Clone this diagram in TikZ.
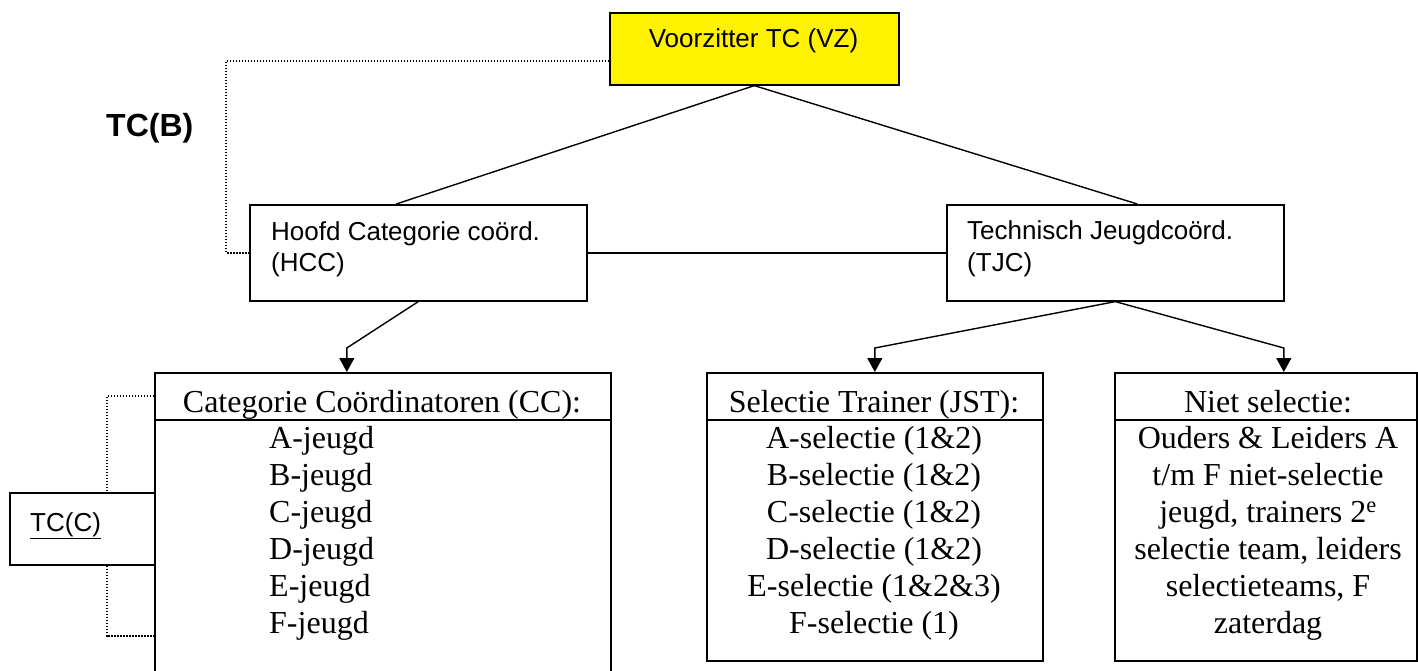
\documentclass[tikz,border=0pt]{standalone}
\usepackage{fontspec}
\setmainfont{Liberation Serif}
\setsansfont{Liberation Sans}
\usetikzlibrary{calc,arrows.meta}
\begin{document}
\begin{tikzpicture}[x=1pt,y=-1pt,
  box/.style={draw=black, line width=1.6pt, inner sep=0pt, anchor=north west},
  conn/.style={line width=1.4pt},
  arr/.style={conn, -{Triangle[length=14pt,width=15pt]}},
  dots/.style={line width=1.6pt, dash pattern=on 1.5pt off 1.5pt},
  sans/.style={font=\sffamily\fontsize{26}{30}\selectfont, inner sep=0pt},
  serif/.style={font=\rmfamily\fontsize{32}{37}\selectfont, inner sep=0pt, anchor=base},
]
\useasboundingbox[fill=white] (0,0) rectangle (1418,671);

% boxes
\node[box, fill=yellow, minimum width=289, minimum height=72] (VZ) at (609,12) {};
\node[box, minimum width=337, minimum height=96] (HCC) at (249,204) {};
\node[box, minimum width=337, minimum height=96] (TJC) at (946,204) {};
\node[box, minimum width=145, minimum height=72] (TCC) at (9,492) {};
\node[box, minimum width=456, minimum height=330] (CC) at (154,372) {};
\node[box, minimum width=336, minimum height=288] (SEL) at (706,372) {};
\node[box, minimum width=302, minimum height=288] (NIET) at (1114,372) {};

% header separators
\draw[conn] ($(CC.north west)+(0,48)$) -- ($(CC.north east)+(0,48)$);
\draw[conn] ($(SEL.north west)+(0,48)$) -- ($(SEL.north east)+(0,48)$);
\draw[conn] ($(NIET.north west)+(0,48)$) -- ($(NIET.north east)+(0,48)$);

% sans texts
\node[sans, anchor=base] (vzt) at (753.5,48) {Voorzitter TC (VZ)};
\node[sans, anchor=base west] (hcc1) at (271,240) {Hoofd Categorie coörd.};
\node[sans, anchor=base west] (hcc2) at (271,271) {(HCC)};
\node[sans, anchor=base west] (tjc1) at (967,239) {Technisch Jeugdcoörd.};
\node[sans, anchor=base west] (tjc2) at (967,271) {(TJC)};
\node[sans, anchor=base west] (tcct) at (30,531) {\underline{TC(C)}};
\node[font=\sffamily\bfseries\fontsize{32}{36}\selectfont, inner sep=0pt, anchor=base west] (tcb) at (106,137) {TC(B)};

% serif texts
\node[serif] (cch) at (382,412) {Categorie Coördinatoren (CC):};
\foreach \t [count=\i] in {A,B,C,D,E,F}
  \node[serif, anchor=base west] (cc\i) at (269,411+37*\i) {\t-jeugd};
\node[serif] (selh) at (874,412) {Selectie Trainer (JST):};
\foreach \t [count=\i] in {A-selectie (1\&2),B-selectie (1\&2),C-selectie (1\&2),D-selectie (1\&2),E-selectie (1\&2\&3),F-selectie (1)}
  \node[serif] (sel\i) at (874,411+37*\i) {\t};
\node[serif] (nieth) at (1268,412) {Niet selectie:};
\foreach \t [count=\i] in {Ouders \& Leiders A,t/m F niet-selectie,{jeugd, trainers 2\textsuperscript{e}},{selectie team, leiders},{selectieteams, F},zaterdag}
  \node[serif] (niet\i) at (1268,411+37*\i) {\t};

% connectors
\draw[conn] (VZ.south) -- ($(HCC.north)+(-22,0)$);
\draw[conn] (VZ.south) -- ($(TJC.north)+(22,0)$);
\draw[conn] (HCC.east) -- (TJC.west);
\draw[arr] (HCC.south) -- ($(CC.north)+(-36,-24)$) -- ($(CC.north)+(-36,0)$);
\draw[arr] (TJC.south) -- ($(SEL.north)+(0,-24)$) -- (SEL.north);
\draw[arr] (TJC.south) -- ($(NIET.north)+(18,-24)$) -- ($(NIET.north)+(18,0)$);

% dotted links
\draw[dots] ($(VZ.west)+(0,12)$) -| ($(HCC.west)+(-23,0)$) -- (HCC.west);
\draw[dots] ($(CC.north west)+(0,24)$) -| ($(TCC.north)+(24.5,0)$);
\draw[dots] ($(TCC.south)+(24.5,0)$) |- ($(CC.north west)+(0,264)$);
\end{tikzpicture}
\end{document}
